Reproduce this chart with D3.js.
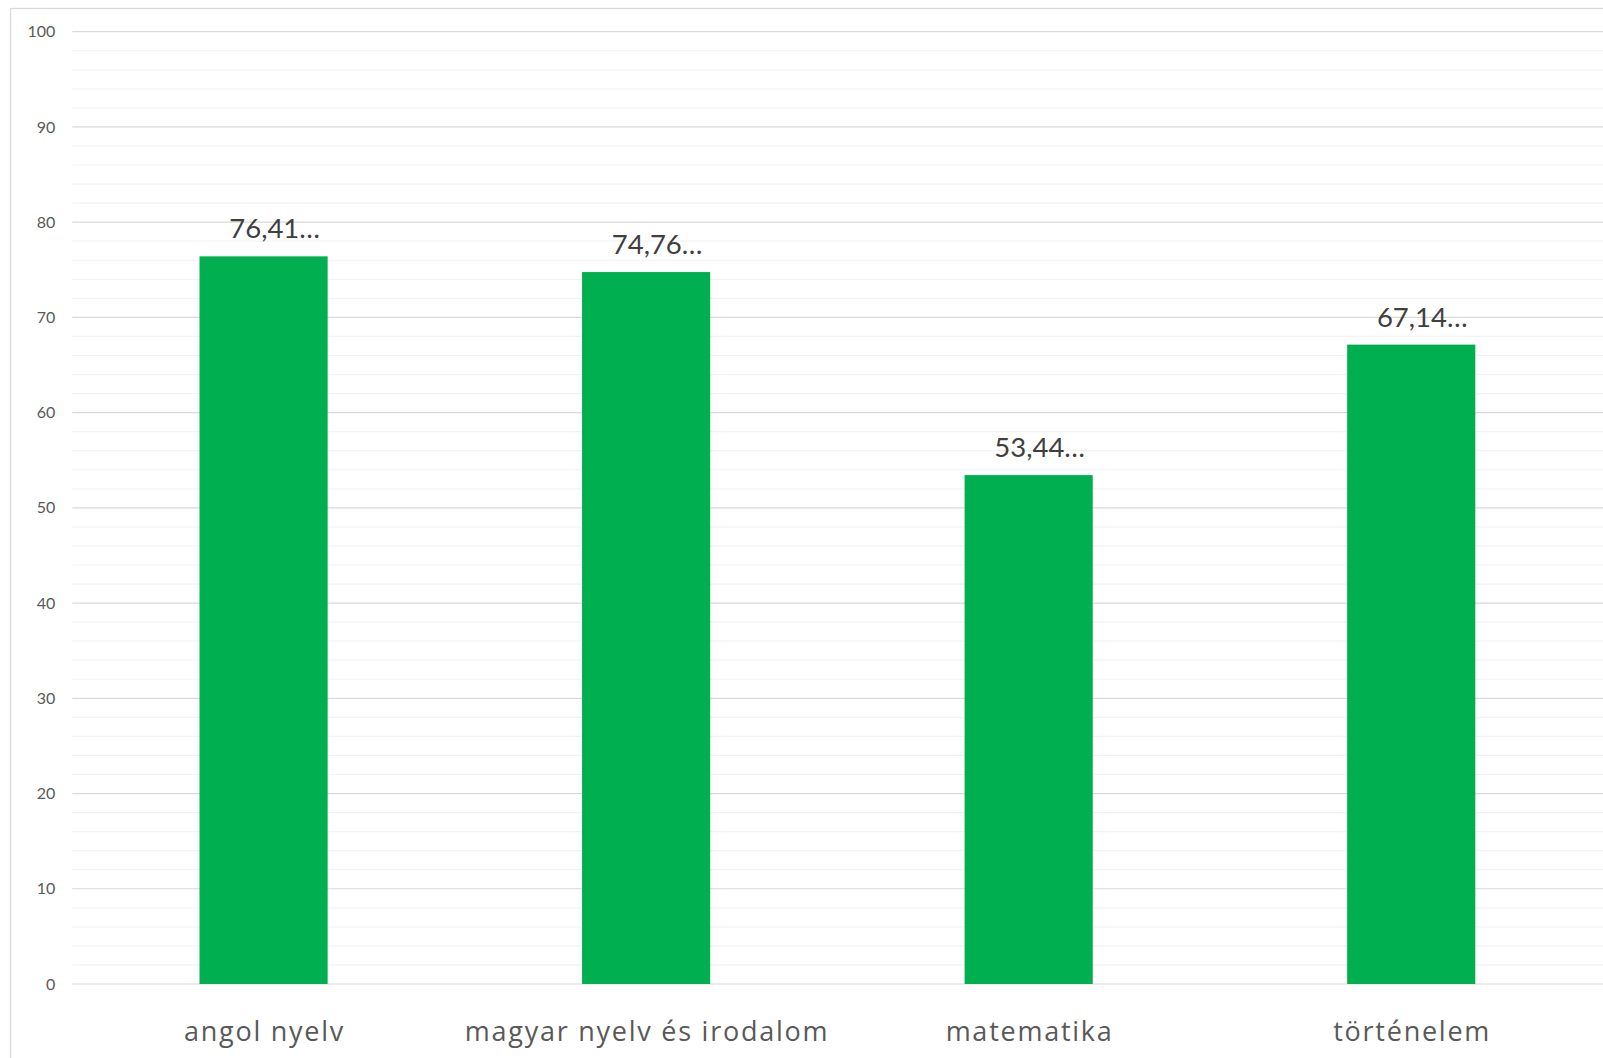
<!DOCTYPE html>
<html>
<head>
<meta charset="utf-8">
<script src="https://cdn.jsdelivr.net/npm/d3@7"></script>
<style>
  html, body { margin: 0; padding: 0; background: #ffffff; }
  svg { display: block; }
</style>
</head>
<body>
<svg id="chart" width="1603" height="1058"></svg>
<script>
const categories = ["angol nyelv", "magyar nyelv és irodalom", "matematika", "történelem"];
const values = [76.41, 74.76, 53.44, 67.14];
const valueLabels = ["76,41…", "74,76…", "53,44…", "67,14…"];
const yTicks = [0, 10, 20, 30, 40, 50, 60, 70, 80, 90, 100];
const yMinorTicks = d3.range(0, 101, 2);

const W = 1603, H = 1058;
const margin = { left: 72.3, right: 0.5, top: 31.7, bottom: 74 };

const svg = d3.select("#chart");

// chart area border (cropped at right and bottom)
svg.append("rect")
  .attr("x", 10.5).attr("y", 8.5)
  .attr("width", W + 20).attr("height", H + 20)
  .attr("fill", "#ffffff")
  .attr("stroke", "#d9d9d9").attr("stroke-width", 1.3);

const x = d3.scaleBand()
  .domain(categories)
  .range([margin.left, W - margin.right])
  .paddingInner(0.665)
  .paddingOuter(0.3325);

const y = d3.scaleLinear()
  .domain([0, 100])
  .range([H - margin.bottom, margin.top]);

// minor gridlines
svg.append("g")
  .selectAll("line")
  .data(yMinorTicks.filter(d => d % 10 !== 0))
  .join("line")
  .attr("x1", margin.left).attr("x2", W)
  .attr("y1", d => y(d)).attr("y2", d => y(d))
  .attr("stroke", "#f2f2f2").attr("stroke-width", 1.2);

// major gridlines
svg.append("g")
  .selectAll("line")
  .data(yTicks)
  .join("line")
  .attr("x1", margin.left).attr("x2", W)
  .attr("y1", d => y(d)).attr("y2", d => y(d))
  .attr("stroke", "#d9d9d9").attr("stroke-width", 1.2);

// y axis labels
const yAxis = d3.axisLeft(y).tickValues(yTicks).tickSize(0).tickPadding(17).tickFormat(d3.format("d"));
const gy = svg.append("g")
  .attr("transform", `translate(${margin.left},0)`)
  .call(yAxis);
gy.select(".domain").remove();
gy.selectAll("text")
  .attr("fill", "#595959")
  .style("font-family", "Lato, 'Open Sans', sans-serif")
  .style("font-size", "16px");

// bars
svg.append("g")
  .selectAll("rect")
  .data(values)
  .join("rect")
  .attr("x", (d, i) => x(categories[i]))
  .attr("y", d => y(d))
  .attr("width", x.bandwidth())
  .attr("height", d => y(0) - y(d))
  .attr("fill", "#00b050");

// value labels
svg.append("g")
  .selectAll("text")
  .data(values)
  .join("text")
  .attr("x", (d, i) => x(categories[i]) + x.bandwidth() / 2)
  .attr("dx", 11)
  .attr("y", d => y(d) - 18)
  .attr("text-anchor", "middle")
  .attr("fill", "#404040")
  .style("font-family", "Lato, 'Open Sans', sans-serif")
  .style("font-size", "27.5px")
  .text((d, i) => valueLabels[i]);

// category axis
const xAxis = d3.axisBottom(x).tickSize(0).tickPadding(0);
const gx = svg.append("g")
  .attr("transform", `translate(0,${y(0)})`)
  .call(xAxis);
gx.select(".domain").remove();
gx.selectAll("text")
  .attr("dy", null)
  .attr("y", 56.5)
  .attr("dx", 0.9)
  .attr("fill", "#595959")
  .style("font-family", "'Open Sans', Lato, sans-serif")
  .style("font-size", "27px")
  .style("letter-spacing", "1.75px");
</script>
</body>
</html>
